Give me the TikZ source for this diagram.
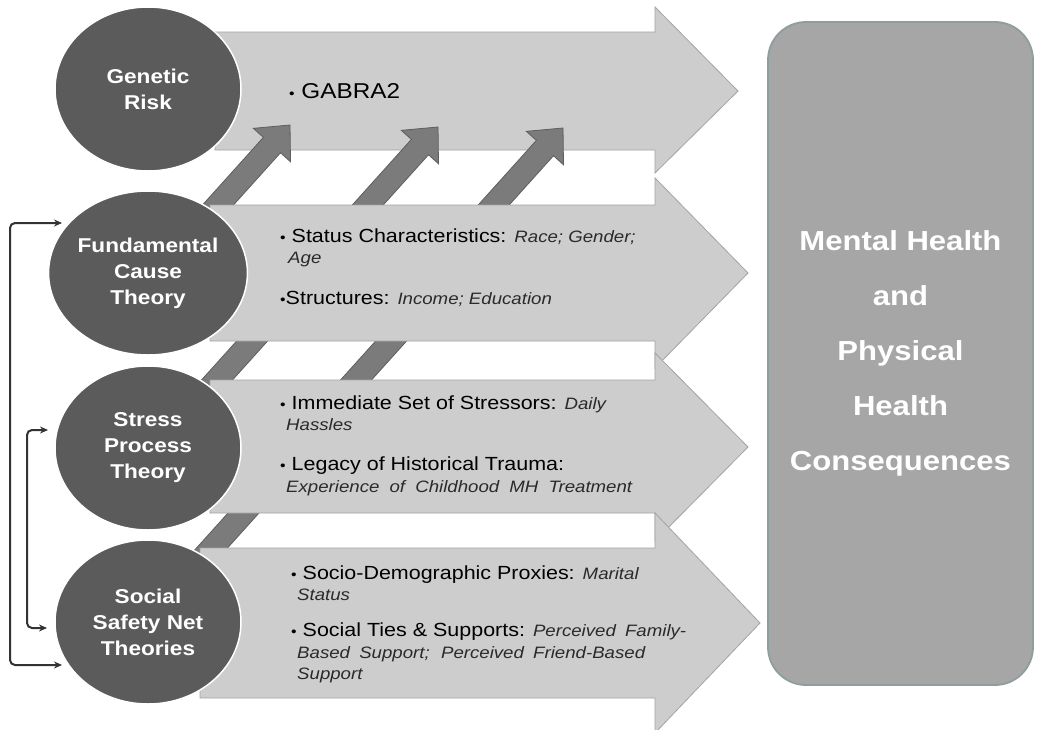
\documentclass[tikz,border=0pt]{standalone}
\usepackage{fontspec}
\setmainfont[FakeStretch=1.13]{Liberation Sans}
\usetikzlibrary{arrows.meta,shapes.geometric,calc}
\definecolor{arrfill}{HTML}{CDCDCD}
\definecolor{arrline}{HTML}{A3A3A3}
\definecolor{circfill}{HTML}{5B5B5B}
\definecolor{smfill}{HTML}{7B7B7B}
\definecolor{smline}{HTML}{5E5E5E}
\definecolor{boxfill}{HTML}{A6A6A6}
\definecolor{boxline}{HTML}{8E9E9E}
\definecolor{conncol}{HTML}{333333}
\definecolor{itcol}{HTML}{2A2A2A}
\newcommand\ital[1]{{\itshape\fontsize{16.5}{20}\selectfont\color{itcol}#1}}
\newcommand\bul{{\fontsize{14}{14}\selectfont•}}
\begin{document}
\begin{tikzpicture}[x=1pt,y=-1pt,
  bigarrow/.style={fill=arrfill,draw=arrline,line width=0.8pt},
  smallarrow/.style={fill=smfill,draw=smline,line width=0.8pt},
  circ/.style={ellipse,fill=circfill,draw=white,line width=1.5pt,minimum width=186pt,minimum height=164pt,inner sep=0pt,text=white,align=center,font=\bfseries\fontsize{20}{26}\selectfont},
  outbox/.style={rectangle,rounded corners=38pt,fill=boxfill,draw=boxline,line width=1.8pt,minimum width=265pt,minimum height=663pt,text=white,align=center,font=\bfseries\fontsize{27.5}{55}\selectfont},
  txt/.style={anchor=base west,inner sep=0pt,font=\fontsize{19}{22}\selectfont},
  conn/.style={draw=conncol,line width=2pt,rounded corners=5pt,{Stealth[length=8pt,width=7pt]}-{Stealth[length=8pt,width=7pt]}}]
\useasboundingbox[fill=white] (0,0) rectangle (1050,729);
% top arrow
\path[bigarrow] (215,32) -- (655,32) -- (655,7) -- (738,91) -- (655,173) -- (655,150) -- (215,150) -- cycle;
% small diagonal arrows
\foreach \tx/\ty in {290/125, 438/127, 563/128} {
  \begin{scope}[shift={(\tx,\ty)}, rotate=48]
    \path[smallarrow] (0,0) -- (-27,25) -- (-27,11.5) -- (-121,11.5) -- (-121,-11.5) -- (-27,-11.5) -- (-27,-25) -- cycle;
  \end{scope}
}
% diagonal bars
\foreach \bx/\by in {217/380, 356/380, 212/548} {
  \begin{scope}[shift={(\bx,\by)}, rotate=48]
    \path[smallarrow] (-25,-11.5) rectangle (70,11.5);
  \end{scope}
}
% other big arrows
\path[bigarrow] (210,205) -- (655,205) -- (655,178) -- (748,273) -- (655,368) -- (655,341) -- (210,341) -- cycle;
\path[bigarrow] (210,380) -- (655,380) -- (655,353) -- (748,447) -- (655,541) -- (655,513) -- (210,513) -- cycle;
\path[bigarrow] (200,548) -- (655,548) -- (655,513) -- (760,623) -- (655,733) -- (655,698) -- (200,698) -- cycle;
% circles
\node[circ] (gen) at (148,89) {Genetic\\Risk};
\node[circ] (fund) at (148,273) {Fundamental\\Cause\\Theory};
\node[circ] (stress) at (148,448) {Stress\\Process\\Theory};
\node[circ] (soc) at (148,622) {Social\\Safety Net\\Theories};
% outcome box
\node[outbox] (out) at (900.5,353.5) {Mental Health\\and\\Physical\\Health\\Consequences};
% texts
\node[txt,font=\fontsize{21.5}{24}\selectfont] (t1) at (289,98) {\bul\ GABRA2};
\node[txt] (t2a) at (280,242) {\bul\ Status Characteristics: \ital{Race; Gender;}};
\node[txt] (t2b) at (288,263) {\ital{Age}};
\node[txt] (t2c) at (280,304) {\bul Structures: \ital{Income; Education}};
\node[txt] (t3a) at (280,409) {\bul\ Immediate Set of Stressors: \ital{Daily}};
\node[txt] (t3b) at (286,430) {\ital{Hassles}};
\node[txt] (t3c) at (280,470) {\bul\ Legacy of Historical Trauma:};
\node[txt] (t3d) at (286,492) {\makebox[346pt][s]{\ital{Experience of Childhood MH Treatment}}};
\node[txt] (t4a) at (291,579) {\bul\ Socio-Demographic Proxies: \ital{Marital}};
\node[txt] (t4b) at (297,600) {\ital{Status}};
\node[txt] (t4c) at (291,636) {\bul\ Social Ties \& Supports: \ital{Perceived\hspace{4pt} Family-}};
\node[txt] (t4d) at (297,658) {\makebox[348pt][s]{\ital{Based Support; Perceived Friend-Based}}};
\node[txt] (t4e) at (297,679) {\ital{Support}};
% connectors
\coordinate (fIn) at ($(fund.center)+(-86,-50)$);
\coordinate (sIn1) at ($(soc.center)+(-86,43)$);
\coordinate (stIn) at ($(stress.center)+(-100,-18)$);
\coordinate (sIn2) at ($(soc.center)+(-101,6)$);
\draw[conn] (fIn) -- ++(-52,0) |- (sIn1);
\draw[conn] (stIn) -- ++(-21,0) |- (sIn2);
\end{tikzpicture}
\end{document}
